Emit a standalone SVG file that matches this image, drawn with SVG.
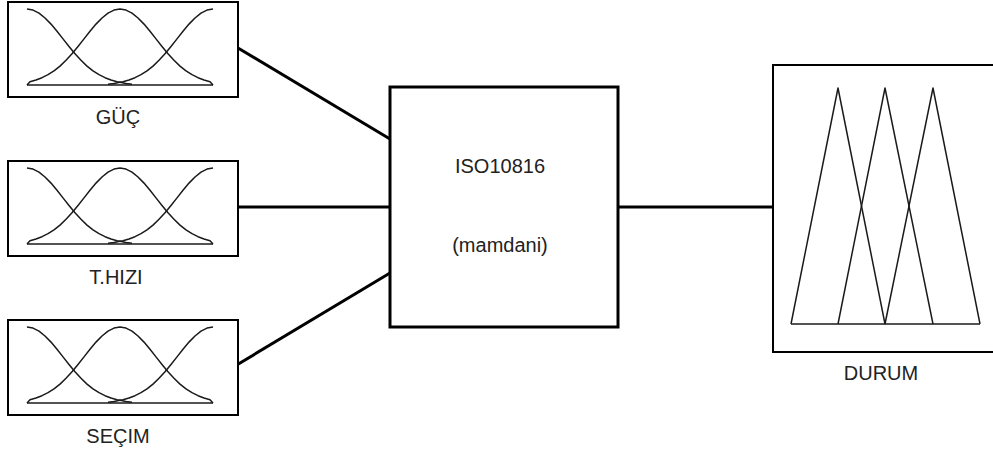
<svg xmlns="http://www.w3.org/2000/svg" width="993" height="455" viewBox="0 0 993 455">
<style>
.box{fill:#fff;stroke:#000;stroke-width:2}
.mid{fill:#fff;stroke:#000;stroke-width:3}
.mf{fill:none;stroke:#1a1a1a;stroke-width:1.5;stroke-linejoin:round}
.conn{stroke:#000;stroke-width:3;fill:none}
.lbl{font-family:"Liberation Sans",Arial,sans-serif;font-size:20px;fill:#222;text-anchor:middle}
</style>
<defs>
<g id="gauss">
<polyline class="mf" points="19,7 25,8.1 31,11.1 37,16 43,22.1 49,29.3 55,36.9 61,44.5 67,51.8 73,58.3 79,64.1 85,68.9 91,72.7 97,75.7 103,78 109,79.7 112,80.3 118,81.5 124,82.2"/>
<polyline class="mf" points="19,83 22,79.7 28,78 34,75.7 40,72.7 46,68.9 52,64.1 58,58.3 64,51.8 70,44.5 76,36.9 82,29.3 88,22.1 94,16 100,11.1 106,8.1 112,7 118,8.1 124,11.1 130,16 136,22.1 142,29.3 148,36.9 154,44.5 160,51.8 166,58.3 172,64.1 178,68.9 184,72.7 190,75.7 196,78 202,79.7 205,83"/>
<polyline class="mf" points="205,7 199,8.1 193,11.1 187,16 181,22.1 175,29.3 169,36.9 163,44.5 157,51.8 151,58.3 145,64.1 139,68.9 133,72.7 127,75.7 121,78 115,79.7 112,80.3 106,81.5 100,82.2"/>
<line class="mf" x1="19" y1="83" x2="205" y2="83"/>
</g>
</defs>
<g id="connectors">
<line class="conn" x1="238" y1="48" x2="390" y2="139"/>
<line class="conn" x1="238" y1="207" x2="390" y2="207"/>
<line class="conn" x1="235" y1="366" x2="390" y2="273"/>
<line class="conn" x1="618" y1="207" x2="773" y2="207"/>
</g>
<g id="guc">
<rect class="box" x="8" y="2" width="230" height="95"/>
<use href="#gauss" x="8" y="2"/>
<text class="lbl" x="118" y="124">GÜÇ</text>
</g>
<g id="thizi">
<rect class="box" x="8" y="161" width="230" height="95"/>
<use href="#gauss" x="8" y="161"/>
<text class="lbl" x="116" y="284">T.HIZI</text>
</g>
<g id="secim">
<rect class="box" x="8" y="320" width="230" height="95"/>
<use href="#gauss" x="8" y="320"/>
<text class="lbl" x="118" y="443">SEÇIM</text>
</g>
<g id="iso">
<rect class="mid" x="390" y="87" width="228" height="240"/>
<text class="lbl" x="500" y="173">ISO10816</text>
<text class="lbl" x="500" y="252">(mamdani)</text>
</g>
<g id="durum">
<rect class="box" x="773" y="65" width="240" height="287"/>
<polyline class="mf" points="791,324 838,88 885,324"/>
<polyline class="mf" points="838,324 885,88 933,324"/>
<polyline class="mf" points="885,324 933,88 980,324"/>
<line class="mf" x1="791" y1="324" x2="980" y2="324"/>
<text class="lbl" x="881" y="380">DURUM</text>
</g>
</svg>
